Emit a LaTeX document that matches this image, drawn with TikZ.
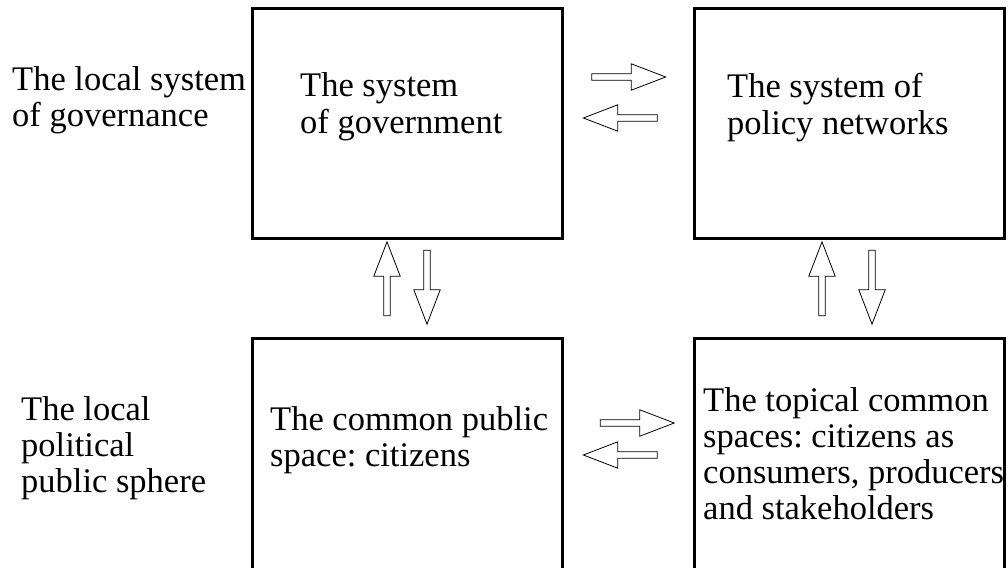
\documentclass[tikz,border=0pt]{standalone}
\usepackage{fontspec}
\setmainfont{Liberation Serif}
\usetikzlibrary{shapes.arrows}
\begin{document}
\begin{tikzpicture}[x=1pt,y=-1pt,
		box/.style={draw, line width=3pt, inner sep=0, outer sep=0, minimum width=310pt},
		txt/.style={anchor=base west, align=left, inner sep=0, font=\fontsize{34.5}{36}\selectfont\frenchspacing},
		blockarrow/.style={single arrow, draw, line width=0.8pt, inner sep=2.8pt, minimum height=74pt,
			single arrow head extend=10pt, single arrow tip angle=42}]
		\useasboundingbox (0,0) rectangle (1008,567);
		\clip (0,0) rectangle (1008,567);
		% the four boxes
		\node at (407,123.5) [box, minimum height=229pt] (gov) {};
		\node at (849.5,123.5) [box, minimum height=229pt] (net) {};
		\node at (407,458) [box, minimum height=240pt] (pub) {};
		\node at (849.5,458) [box, minimum height=240pt] (topic) {};
		% texts (anchored at the baseline of their last line)
		\node at (12,127) [txt] (governance) {The local system\\of governance};
		\node at (21,492) [txt] (sphere) {The local\\political\\public sphere};
		\node at (300,133) [txt] (govtext) {The system\\of government};
		\node at (727,134) [txt] (nettext) {The system of\\policy networks};
		\node at (270,466) [txt] (pubtext) {The common public\\space: citizens};
		\node at (703,519) [txt] (topictext) {The topical common\\spaces: citizens as\\consumers, producers\\and stakeholders};
		% arrows between the boxes
		\node at (624.5,77) [blockarrow] (govnet) {};
		\node at (624.5,118) [blockarrow, shape border rotate=180] (netgov) {};
		\node at (633,423) [blockarrow] (pubtopic) {};
		\node at (624.5,455) [blockarrow, shape border rotate=180] (topicpub) {};
		\node at (387,283) [blockarrow, shape border rotate=90] (pubgov) {};
		\node at (427,283) [blockarrow, shape border rotate=270] (govpub) {};
		\node at (822,283) [blockarrow, shape border rotate=90] (topicnet) {};
		\node at (872,283) [blockarrow, shape border rotate=270] (nettopic) {};
	\end{tikzpicture}
\end{document}
